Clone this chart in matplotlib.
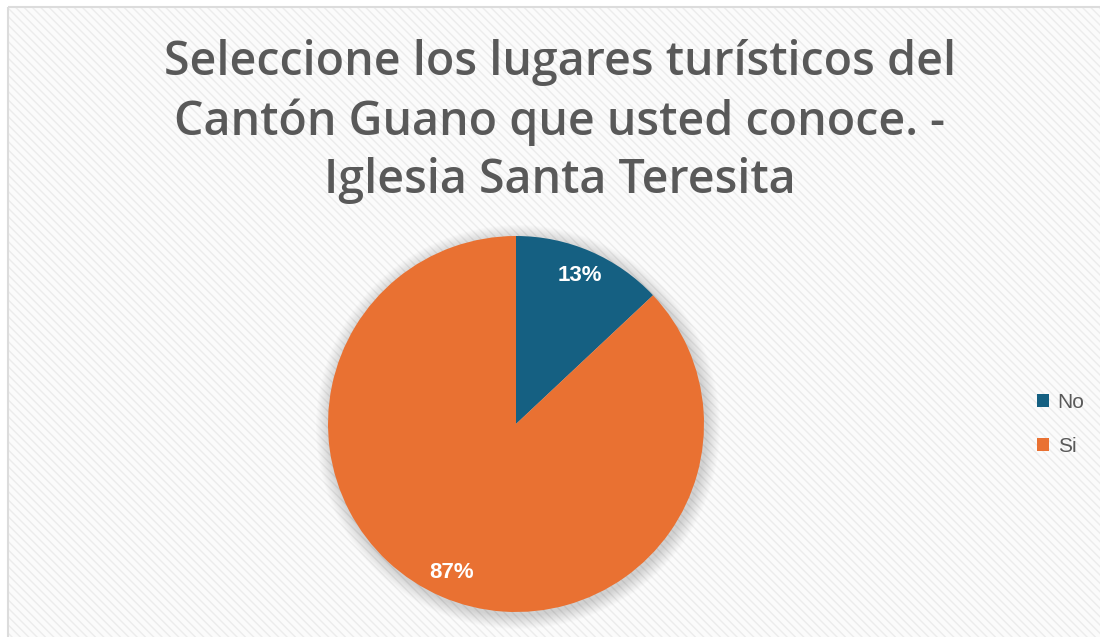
import matplotlib.pyplot as plt
from matplotlib.patches import Rectangle, Circle

# data
labels = ['No', 'Si']
values = [13, 87]
colors = ['#156082', '#E97132']
title = 'Seleccione los lugares turísticos del\nCantón Guano que usted conoce. -\nIglesia Santa Teresita'

W, H = 1100, 637
fig = plt.figure(figsize=(W / 100, H / 100), dpi=100)
fig.patch.set_facecolor('white')

# hatched chart area background + border
bg = fig.add_axes([0, 0, 1, 1])
bg.set_xlim(0, W)
bg.set_ylim(H, 0)
bg.axis('off')
bg.add_patch(Rectangle((8, 7), W, H, facecolor='#fbfbfb', edgecolor='none'))
bg.add_patch(Rectangle((8, 7), W, H, facecolor='none', edgecolor='#ececec',
                       hatch='\\\\\\\\', linewidth=0))
bg.add_patch(Rectangle((8, 7), W, H, facecolor='none', edgecolor='#dcdcdc', linewidth=1.5))

# soft shadow behind the pie
cx, cy, r = 516, 424, 188
for i in range(14):
    bg.add_patch(Circle((cx + 2, cy + 3), r + 14 - i, facecolor='#000000',
                        alpha=0.012, edgecolor='none'))

fig.text(560 / W, 1 - 39 / H, title, ha='center', va='top', fontsize=33.5,
         family='Open Sans', weight='semibold', color='#595959', linespacing=1.33)

ax = fig.add_axes([(cx - r) / W, (H - cy - r) / H, 2 * r / W, 2 * r / H])
wedges, texts, autotexts = ax.pie(values, colors=colors, startangle=90, counterclock=False,
                                  autopct='%1.0f%%', pctdistance=0.86, radius=1)
for t in autotexts:
    t.set_color('white')
    t.set_fontsize(16)
    t.set_fontweight('bold')
    t.set_family('Liberation Sans')
ax.set_xlim(-1, 1)
ax.set_ylim(-1, 1)
ax.set_aspect('equal')

leg = fig.legend(wedges, labels, loc='center left', bbox_to_anchor=(1018 / W, 1 - 424 / H),
                 frameon=False, fontsize=15, handlelength=0.6, handleheight=0.6,
                 labelspacing=1.2, handletextpad=0.4)
for t in leg.get_texts():
    t.set_color('#595959')
    t.set_family('Liberation Sans')

fig.savefig('out.png', dpi=100)
